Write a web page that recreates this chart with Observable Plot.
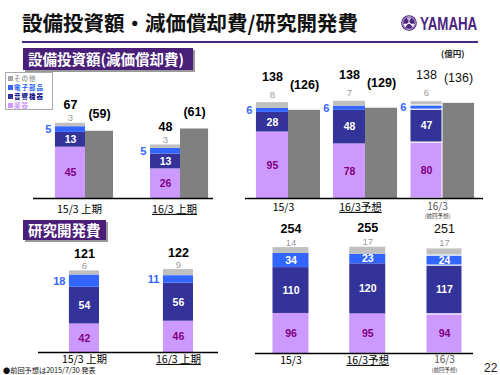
<!DOCTYPE html>
<html><head><meta charset="utf-8">
<script src="https://cdn.jsdelivr.net/npm/d3@7"></script>
<script src="https://cdn.jsdelivr.net/npm/@observablehq/plot@0.6"></script>
<style>
html,body{margin:0;padding:0;background:#fff;}
#page{position:relative;width:500px;height:375px;overflow:hidden;background:#fff;font-family:"Noto Sans CJK JP",sans-serif;}
.abs{position:absolute;}
#title{left:22px;top:9px;font-size:20.5px;font-weight:700;color:#111;line-height:26px;white-space:nowrap;z-index:2;}
#ymh{left:420px;top:15px;font-family:"Liberation Sans",Arial,sans-serif;font-size:18px;line-height:18px;font-weight:700;color:#4b2580;transform:scaleX(0.74);transform-origin:left top;white-space:nowrap;z-index:2;}
#rule{left:22px;top:41px;width:456px;height:2px;background:#4b2580;z-index:2;}
.hdr{background:#4a1f7a;color:#fff;font-weight:700;font-size:14.5px;padding-left:5px;box-shadow:2px 2px 0 #9a9a9a;white-space:nowrap;z-index:2;box-sizing:border-box;}
#hdr1{left:23px;top:48px;width:170px;height:22px;line-height:22px;}
#hdr2{left:23px;top:220px;width:83px;height:20px;line-height:20px;}
#legend{left:5px;top:72px;width:48px;height:38px;border:1px solid #aaa;box-sizing:border-box;font-size:6.5px;letter-spacing:1px;font-weight:700;padding:0.5px 0 0 2px;z-index:2;background:#fff;}
#legend div{height:9px;line-height:9px;white-space:nowrap;}
#legend span.sw{display:inline-block;width:5px;height:5px;margin-right:1px;vertical-align:0px;}
#unit{left:441px;top:47px;font-size:8.5px;font-weight:700;color:#222;z-index:2;}
#foot{left:3px;top:366px;font-size:7.2px;line-height:8px;color:#111;white-space:nowrap;z-index:2;}
#pno{left:484px;top:361px;font-family:"Liberation Sans",Arial,sans-serif;font-size:12px;color:#222;z-index:2;}
.pl{position:absolute;z-index:1;}
</style>
</head><body>
<div id="page">
  <div class="pl" id="ul" style="left:0;top:90px;width:240px;height:130px"></div>
  <div class="pl" id="ur" style="left:230px;top:60px;width:270px;height:160px"></div>
  <div class="pl" id="ll" style="left:0;top:240px;width:240px;height:135px"></div>
  <div class="pl" id="lr" style="left:240px;top:215px;width:260px;height:160px"></div>
  <div class="abs" id="title">設備投資額・減価償却費/研究開発費</div>
  <svg class="abs" style="left:401px;top:15px;z-index:2" width="16" height="16" viewBox="0 0 16 16">
    <circle cx="8" cy="8" r="7.8" fill="#4b2580"/>
    <circle cx="8" cy="8" r="6.3" fill="none" stroke="#fff" stroke-width="0.7"/>
    <g stroke="#fff" stroke-width="1" fill="none">
      <path d="M8 8 V2.6 M6.9 2.6 V4.6 M9.1 2.6 V4.6"/>
      <path d="M8 8 V2.6 M6.9 2.6 V4.6 M9.1 2.6 V4.6" transform="rotate(120 8 8)"/>
      <path d="M8 8 V2.6 M6.9 2.6 V4.6 M9.1 2.6 V4.6" transform="rotate(240 8 8)"/>
    </g>
  </svg>
  <div class="abs" id="ymh">YAMAHA</div>
  <div class="abs" id="rule"></div>
  <div class="abs hdr" id="hdr1">設備投資額(減価償却費)</div>
  <div class="abs" id="legend"></div>
  <div class="abs" id="unit">(億円)</div>
  <div class="abs hdr" id="hdr2">研究開発費</div>
  <div class="abs" id="foot">●前回予想は2015/7/30 発表</div>
  <div class="abs" id="pno">22</div>
</div>
<script>
// ---------- data ----------
const SERIES = ["楽器", "音響機器", "電子部品", "その他"];   // bottom -> top
const DEPR = "減価償却費";

// 設備投資額 (上期)
const capexH1Cats  = ["15/3 上期", "16/3 上期"];
const capexH1Instr = [45, 26];
const capexH1Audio = [13, 13];
const capexH1Elec  = [5, 5];
const capexH1Other = [3, 3];
const capexH1Total = [67, 48];
const capexH1Depr  = [59, 61];

// 設備投資額 (通期)
const capexFYCats  = ["15/3", "16/3予想", "16/3"];
const capexFYSub   = ["", "", "(前回予想)"];
const capexFYInstr = [95, 78, 80];
const capexFYAudio = [28, 48, 47];
const capexFYElec  = [6, 6, 6];
const capexFYOther = [8, 7, 6];
const capexFYTotal = [138, 138, 138];
const capexFYDepr  = [126, 129, 136];

// 研究開発費 (上期)
const rdH1Cats  = ["15/3 上期", "16/3 上期"];
const rdH1Instr = [42, 46];
const rdH1Audio = [54, 56];
const rdH1Elec  = [18, 11];
const rdH1Other = [6, 9];
const rdH1Total = [121, 122];

// 研究開発費 (通期)
const rdFYCats  = ["15/3", "16/3予想", "16/3"];
const rdFYSub   = ["", "", "(前回予想)"];
const rdFYInstr = [96, 95, 94];
const rdFYAudio = [110, 120, 117];
const rdFYElec  = [34, 23, 24];
const rdFYOther = [14, 17, 17];
const rdFYTotal = [254, 255, 251];

const underlined = ["16/3 上期", "16/3予想"];

// ---------- styles ----------
const COLORS = ["#cc99ff", "#333399", "#3366ff", "#c0c0c0"];
const DEPR_COLOR = "#808080";
const NUM = "Liberation Sans, Arial, sans-serif";
const JP = "Noto Sans CJK JP, sans-serif";

// legend
const leg = document.getElementById("legend");
const legColors = {"その他": "#a6a6a6", "電子部品": "#1f5fff", "音響機器": "#000080", "楽器": "#cc99ff"};
SERIES.slice().reverse().forEach((s) => {
  const i = SERIES.indexOf(s);
  const row = document.createElement("div");
  row.innerHTML = `<span class="sw" style="background:${COLORS[i] === "#c0c0c0" ? "#a6a6a6" : COLORS[i]}"></span><span style="color:${legColors[s]}">${s}</span>`;
  leg.appendChild(row);
});

function panel(cfg) {
  const segs = [];
  cfg.cats.forEach((cat, i) => {
    let acc = 0;
    cfg.series.forEach((arr, s) => {
      const v = arr[i];
      segs.push({i, key: SERIES[s], value: v, y1: acc, y2: acc + v, mid: acc + v / 2});
      acc += v;
    });
  });
  const cols = cfg.cats.map((cat, i) => ({
    i, cat, key: DEPR,
    sub: cfg.sub ? cfg.sub[i] : "",
    top: d3.sum(cfg.series, (a) => a[i]),
    total: cfg.totals[i],
    depr: cfg.depr ? cfg.depr[i] : null
  }));
  const so = cfg.stackOff, dof = cfg.deprOff;
  const sx1 = (d) => d.i + so[0], sx2 = (d) => d.i + so[1], sc = (d) => d.i + (so[0] + so[1]) / 2;
  const light = (d) => d.i === cfg.lightIndex;
  const dark = (d) => d.i !== cfg.lightIndex;
  const seg = (k) => segs.filter((d) => d.key === k);

  const marks = [];
  if (cfg.depr) {
    marks.push(Plot.rect(cols, {x1: (d) => d.i + dof[0], x2: (d) => d.i + dof[1], y1: 0, y2: "depr", fill: "key"}));
  }
  marks.push(Plot.rect(segs.filter(dark), {x1: sx1, x2: sx2, y1: "y1", y2: "y2", fill: "key"}));
  marks.push(Plot.rect(segs.filter(light), {x1: sx1, x2: sx2, y1: "y1", y2: "y2", fill: "key", stroke: "#fff", strokeWidth: 1}));
  marks.push(Plot.ruleY([0], {stroke: "#000", strokeWidth: 1.6}));

  // totals
  marks.push(Plot.text(cols.filter(dark), {x: sc, y: "top", text: (d) => String(d.total), dy: cfg.totalDy, fontFamily: NUM, fontSize: 12.5, fontWeight: "bold", fill: "#000"}));
  marks.push(Plot.text(cols.filter(light), {x: sc, y: "top", text: (d) => String(d.total), dy: cfg.totalDy, fontFamily: NUM, fontSize: 12.5, fill: "#111"}));
  if (cfg.depr) {
    const dc = (d) => d.i + (dof[0] + dof[1]) / 2;
    marks.push(Plot.text(cols.filter(dark), {x: dc, y: "depr", text: (d) => `(${d.depr})`, dy: cfg.deprDy, fontFamily: NUM, fontSize: 12.5, fontWeight: "bold", fill: "#000"}));
    marks.push(Plot.text(cols.filter(light), {x: dc, y: "depr", text: (d) => `(${d.depr})`, dy: cfg.deprDy, fontFamily: NUM, fontSize: 12.5, fill: "#111"}));
  }
  // segment labels
  marks.push(Plot.text(seg("その他"), {x: sc, y: "y2", text: "value", dy: cfg.otherDy, fontFamily: NUM, fontSize: 9.5, fill: "#9a9a9a"}));
  if (cfg.elecInside) {
    marks.push(Plot.text(seg("電子部品"), {x: sc, y: "mid", text: "value", fontFamily: NUM, fontSize: 10.5, fontWeight: "bold", fill: "#fff"}));
  } else {
    marks.push(Plot.text(seg("電子部品"), {x: sx1, y: "mid", text: "value", dx: -4, textAnchor: "end", fontFamily: NUM, fontSize: 11, fontWeight: "bold", fill: "#3366ff"}));
  }
  marks.push(Plot.text(seg("音響機器"), {x: sc, y: "mid", text: "value", fontFamily: NUM, fontSize: 10.5, fontWeight: "bold", fill: "#fff"}));
  marks.push(Plot.text(seg("楽器"), {x: sc, y: "mid", text: "value", fontFamily: NUM, fontSize: 10.5, fontWeight: "bold", fill: "#800080"}));
  // category labels
  marks.push(Plot.text(cols.filter(dark), {x: "i", y: 0, text: "cat", dx: cfg.catDx, dy: cfg.catDy, fontFamily: JP, fontSize: 10.5, fill: "#000"}));
  marks.push(Plot.text(cols.filter(light), {x: "i", y: 0, text: "cat", dx: cfg.catDx, dy: cfg.catDy - 1, fontFamily: JP, fontSize: 10, fill: "#555"}));
  if (cfg.sub) {
    marks.push(Plot.text(cols.filter((d) => d.sub), {x: "i", y: 0, text: "sub", dx: cfg.catDx, dy: cfg.subDy, fontFamily: JP, fontSize: 5.5, fill: "#333"}));
  }

  const svg = Plot.plot({
    width: cfg.width, height: cfg.height,
    marginTop: cfg.mt, marginRight: cfg.mr, marginBottom: cfg.mb, marginLeft: cfg.ml,
    x: {domain: cfg.xDomain, axis: null},
    y: {domain: [0, cfg.yMax], axis: null},
    color: {domain: [...SERIES, DEPR], range: [...COLORS, DEPR_COLOR]},
    style: {background: "transparent", overflow: "visible"},
    marks
  });
  d3.select(svg).selectAll("text")
    .filter(function () { return underlined.includes(this.textContent); })
    .style("text-decoration", "underline");
  document.getElementById(cfg.el).appendChild(svg);
}

panel({
  el: "ul", width: 240, height: 130, mt: 10, mr: 27, mb: 22, ml: 33,
  xDomain: [-0.547, 1.347], yMax: 86,
  cats: capexH1Cats, series: [capexH1Instr, capexH1Audio, capexH1Elec, capexH1Other],
  totals: capexH1Total, depr: capexH1Depr,
  stackOff: [-0.316, 0], deprOff: [0, 0.295],
  totalDy: -18, deprDy: -17, otherDy: -5, catDx: -6, catDy: 11, lightIndex: -1
});
panel({
  el: "ur", width: 270, height: 160, mt: 20, mr: 17, mb: 22, ml: 15,
  xDomain: [-0.558, 2.532], yMax: 168.6,
  cats: capexFYCats, sub: capexFYSub, series: [capexFYInstr, capexFYAudio, capexFYElec, capexFYOther],
  totals: capexFYTotal, depr: capexFYDepr,
  stackOff: [-0.416, 0], deprOff: [0, 0.416],
  totalDy: -26, deprDy: -25, otherDy: -8, catDx: -5, catDy: 9, subDy: 18, lightIndex: 2
});
panel({
  el: "ll", width: 240, height: 135, mt: 20, mr: 22, mb: 23, ml: 38,
  xDomain: [-0.489, 1.426], yMax: 135.3,
  cats: rdH1Cats, series: [rdH1Instr, rdH1Audio, rdH1Elec, rdH1Other],
  totals: rdH1Total,
  stackOff: [-0.16, 0.16],
  totalDy: -17, otherDy: -5, catDx: 0, catDy: 7, lightIndex: -1
});
panel({
  el: "lr", width: 260, height: 160, mt: 30, mr: 27, mb: 22, ml: 15,
  xDomain: [-0.4625, 2.378], yMax: 259,
  cats: rdFYCats, sub: rdFYSub, series: [rdFYInstr, rdFYAudio, rdFYElec, rdFYOther],
  totals: rdFYTotal, elecInside: true,
  stackOff: [-0.2345, 0.2345],
  totalDy: -19, otherDy: -5, catDx: 0, catDy: 7, subDy: 17, lightIndex: 2
});
</script>
</body></html>
